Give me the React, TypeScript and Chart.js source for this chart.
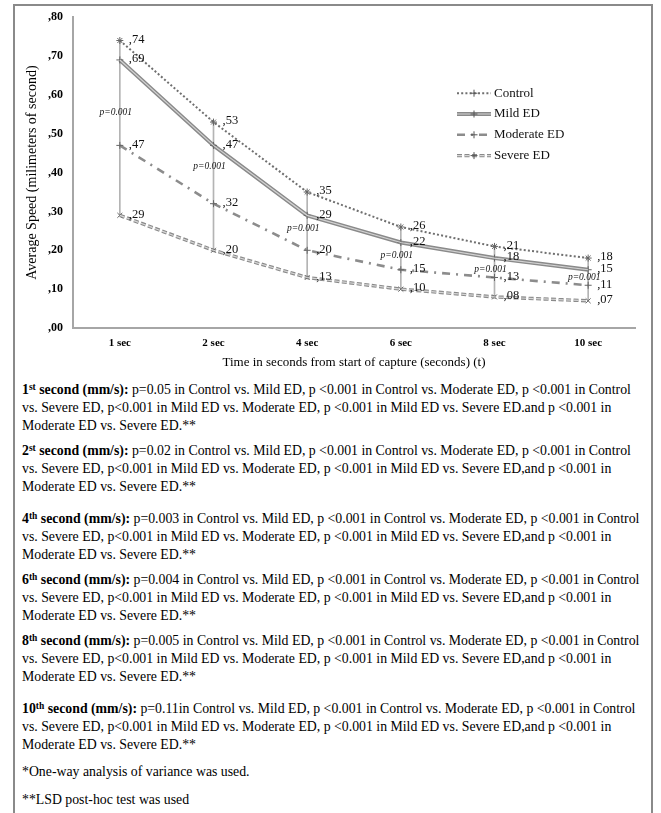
import React, { useEffect, useRef } from "react";
import { Chart, registerables } from "chart.js";

Chart.register(...registerables);

// ---------- data ----------
const categories = ["1 sec", "2 sec", "4 sec", "6 sec", "8 sec", "10 sec"];
const control = [0.74, 0.53, 0.35, 0.26, 0.21, 0.18];
const mild = [0.69, 0.47, 0.29, 0.22, 0.18, 0.15];
const moderate = [0.47, 0.32, 0.2, 0.15, 0.13, 0.11];
const severe = [0.29, 0.2, 0.13, 0.1, 0.08, 0.07];
const seriesNames = ["Control", "Mild ED", "Moderate ED", "Severe ED"];
const pValueText = ["p=0.001", "p=0.001", "p=0.001", "p=0.001", "p=0.001", "p=0.001"];
const pValueAt = [0.555, 0.415, 0.255, 0.187, 0.15, 0.13];
const yMin = 0;
const yMax = 0.8;
const yStep = 0.1;
const xTitle = "Time in seconds from start of capture (seconds) (t)";
const yTitle = "Average Speed (milimeters of second)";

const noteNums = ["1", "2", "4", "6", "8", "10"];
const noteSups = ["st", "st", "th", "th", "th", "th"];
const noteFirstP = ["p=0.05 ", "p=0.02 ", "p=0.003 ", "p=0.004 ", "p=0.005 ", "p=0.11"];
const noteSecondLineEnd = ["Severe ED.and", "Severe ED,and", "Severe ED,and", "Severe ED,and", "Severe ED,and", "Severe ED,and"];
const footnotes = ["*One-way analysis of variance was used.", "**LSD post-hoc test was used"];

const SERIF = "'Liberation Serif', 'Times New Roman', serif";
const fmt = (v: number) => "," + String(Math.round(v * 100)).padStart(2, "0");

// ---------- styles ----------
const styles = [
  { color: "#6f6f6f", width: 2, dash: [2, 2.2], inner: null as null | string, marker: "star" },
  { color: "#8a8a8a", width: 4, dash: [] as number[], inner: "#d2d2d2", marker: "cross" },
  { color: "#8c8c8c", width: 2.6, dash: [8, 6, 2, 6], inner: null, marker: "cross" },
  { color: "#8a8a8a", width: 3.4, dash: [5, 2.5], inner: "#d6d6d6", marker: "crossRot" },
];

const allSeries = [control, mild, moderate, severe];

const overlayPlugin = {
  id: "overlay",
  afterDatasetsDraw(chart: any) {
    const { ctx, chartArea, scales } = chart;
    const x = scales.x;
    const y = scales.y;
    ctx.save();
    // value labels
    ctx.fillStyle = "#111";
    ctx.font = `12.5px ${SERIF}`;
    ctx.textAlign = "left";
    ctx.textBaseline = "middle";
    allSeries.forEach((arr) => {
      arr.forEach((v, i) => {
        const px = x.getPixelForValue(i);
        const py = y.getPixelForValue(v);
        ctx.fillText(fmt(v), px + 9, py - 1);
      });
    });
    // p-value labels
    ctx.font = `italic 9.5px ${SERIF}`;
    ctx.textAlign = "center";
    pValueText.forEach((t, i) => {
      ctx.fillText(t, x.getPixelForValue(i) - 4, y.getPixelForValue(pValueAt[i]));
    });
    // legend
    const lx = chartArea.left + 384;
    const ly = chartArea.top + 76;
    ctx.font = `13px ${SERIF}`;
    ctx.textAlign = "left";
    seriesNames.forEach((name, k) => {
      const s = styles[k];
      const yy = ly + k * 20.8;
      ctx.beginPath();
      ctx.setLineDash(s.dash);
      ctx.strokeStyle = s.color;
      ctx.lineWidth = s.width;
      ctx.moveTo(lx, yy);
      ctx.lineTo(lx + 34, yy);
      ctx.stroke();
      if (s.inner) {
        ctx.beginPath();
        ctx.strokeStyle = s.inner;
        ctx.lineWidth = 1.2;
        ctx.moveTo(lx, yy);
        ctx.lineTo(lx + 34, yy);
        ctx.stroke();
      }
      ctx.setLineDash([]);
      ctx.strokeStyle = "#555";
      ctx.lineWidth = 1;
      ctx.beginPath();
      ctx.moveTo(lx + 17, yy - 3.5);
      ctx.lineTo(lx + 17, yy + 3.5);
      ctx.moveTo(lx + 13.5, yy);
      ctx.lineTo(lx + 20.5, yy);
      ctx.stroke();
      ctx.fillStyle = "#111";
      ctx.fillText(name, lx + 37, yy);
    });
    ctx.restore();
  },
};

export default function App() {
  const ref = useRef<HTMLCanvasElement>(null);

  useEffect(() => {
    const canvas = ref.current;
    if (!canvas) return;
    const lineSets: any[] = [];
    allSeries.forEach((arr, k) => {
      const s = styles[k];
      lineSets.push({
        type: "line",
        label: seriesNames[k],
        data: arr,
        borderColor: s.color,
        borderWidth: s.width,
        borderDash: s.dash,
        backgroundColor: "transparent",
        pointStyle: s.marker,
        pointRadius: 3.5,
        pointBorderColor: "#666",
        pointBorderWidth: 1,
        tension: 0,
        fill: false,
        order: 5 - k,
      });
      if (s.inner) {
        lineSets.push({
          type: "line",
          label: seriesNames[k] + " inner",
          data: arr,
          borderColor: s.inner,
          borderWidth: 1.2,
          borderDash: s.dash,
          pointRadius: 0,
          tension: 0,
          fill: false,
          order: 0,
        });
      }
    });

    const chart = new Chart(canvas, {
      type: "line",
      data: {
        labels: categories,
        datasets: [
          {
            type: "bar",
            label: "range",
            data: categories.map((_, i) => [severe[i], control[i]]),
            backgroundColor: "#b4b4b4",
            barThickness: 1,
            order: 10,
          } as any,
          ...lineSets,
        ],
      },
      options: {
        responsive: false,
        animation: false,
        devicePixelRatio: 1,
        layout: { padding: { top: 16, right: 26, left: 0, bottom: 0 } },
        plugins: {
          legend: { display: false },
          tooltip: { enabled: false },
          title: { display: false },
        },
        scales: {
          x: {
            type: "category",
            offset: true,
            grid: { display: false, drawTicks: false },
            border: { display: true, color: "#a6a6a6", width: 2 },
            ticks: { color: "#000", font: { family: SERIF, size: 11, weight: "bold" }, padding: 9, maxRotation: 0 },
            title: { display: true, text: xTitle, color: "#000", font: { family: SERIF, size: 13 }, padding: { top: 0, bottom: 10 } },
            afterFit: (s: any) => {
              s.height = 52;
            },
          },
          y: {
            min: yMin,
            max: yMax,
            grid: { display: false, drawTicks: false },
            border: { display: true, color: "#a6a6a6", width: 2 },
            ticks: {
              stepSize: yStep,
              color: "#000",
              font: { family: SERIF, size: 12, weight: "bold" },
              padding: 10,
              callback: (v: any) => fmt(Number(v)),
            },
            title: { display: true, text: yTitle, color: "#000", font: { family: SERIF, size: 14 }, padding: { top: 24, bottom: 0 } },
            afterFit: (s: any) => {
              s.width = 73;
            },
          },
        },
      },
      plugins: [overlayPlugin],
    } as any);
    return () => chart.destroy();
  }, []);

  const paraTops = [381, 442, 510, 571, 632, 700];
  const footTops = [763, 791];
  const lineStyle: React.CSSProperties = { whiteSpace: "nowrap", height: 18, lineHeight: "18px" };

  return (
    <div
      style={{
        position: "absolute",
        left: 0,
        top: 0,
        width: 661,
        height: 813,
        background: "#fff",
        overflow: "hidden",
        fontFamily: SERIF,
        color: "#000",
      }}
    >
      <div
        style={{
          position: "absolute",
          left: 13,
          top: 4,
          width: 640,
          height: 900,
          border: "2px solid #8a8a8a",
          boxSizing: "border-box",
        }}
      />
      <canvas ref={ref} width={661} height={380} style={{ position: "absolute", left: 0, top: 0, width: 661, height: 380 }} />
      {noteNums.map((n, i) => (
        <div key={n} style={{ position: "absolute", left: 22, top: paraTops[i], fontSize: 13.8 }}>
          <div style={lineStyle}>
            <b>
              {n}
              <sup style={{ fontSize: 9.5, lineHeight: 0, verticalAlign: "4px" }}>{noteSups[i]}</sup> second (mm/s):
            </b>{" "}
            {noteFirstP[i]}in Control vs. Mild ED, p &lt;0.001 in Control vs. Moderate ED, p &lt;0.001 in Control
          </div>
          <div style={lineStyle}>
            vs. Severe ED, p&lt;0.001 in Mild ED vs. Moderate ED, p &lt;0.001 in Mild ED vs. {noteSecondLineEnd[i]} p &lt;0.001 in
          </div>
          <div style={lineStyle}>Moderate ED vs. Severe ED.**</div>
        </div>
      ))}
      {footnotes.map((t, i) => (
        <div key={t} style={{ position: "absolute", left: 22, top: footTops[i], fontSize: 13.8, ...lineStyle }}>
          {t}
        </div>
      ))}
    </div>
  );
}
